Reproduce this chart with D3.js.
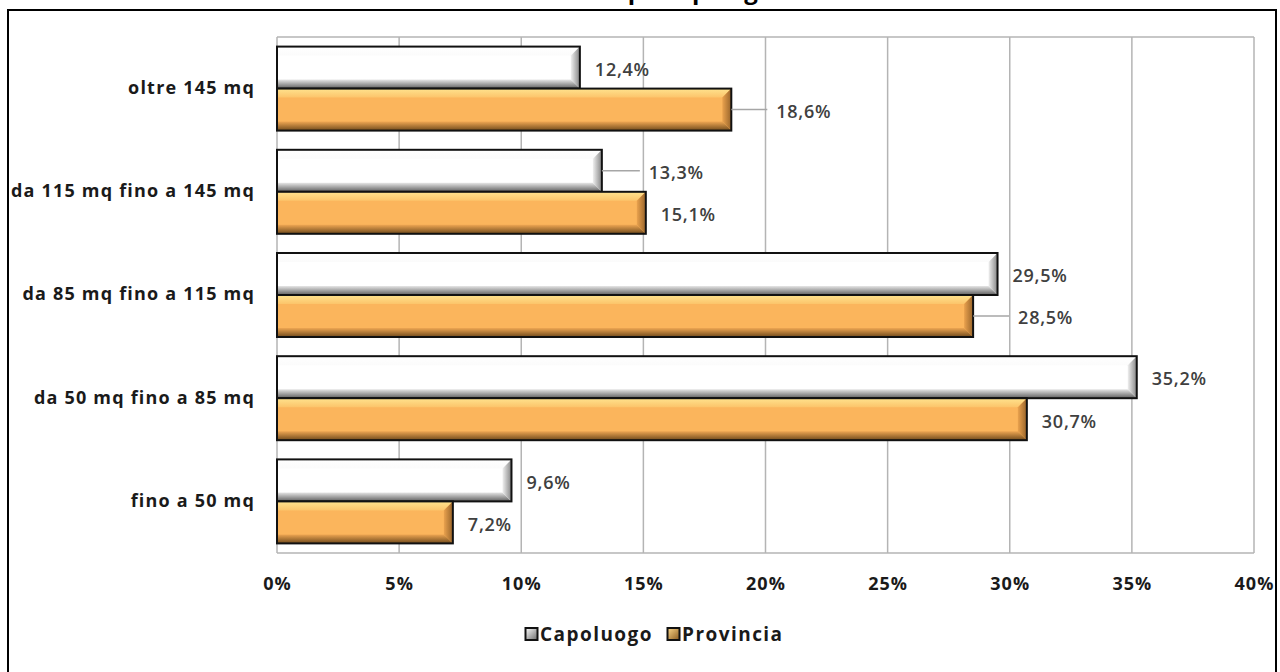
<!DOCTYPE html>
<html>
<head>
<meta charset="utf-8">
<script src="https://cdn.jsdelivr.net/npm/d3@7"></script>
<style>
  html, body { margin: 0; padding: 0; background: #fff; }
  svg { display: block; }
  text { font-family: "Open Sans", Lato, sans-serif; }
</style>
</head>
<body>
<svg id="chart" width="1280" height="672"></svg>
<script>
// Surface classes (top to bottom) and the two series
const categories = [
  "oltre 145 mq",
  "da 115 mq fino a 145 mq",
  "da 85 mq fino a 115 mq",
  "da 50 mq fino a 85 mq",
  "fino a 50 mq"
];
const seriesNames = ["Capoluogo", "Provincia"];
const capoluogo = [12.4, 13.3, 29.5, 35.2, 9.6];
const provincia = [18.6, 15.1, 28.5, 30.7, 7.2];
const tickValues = [0, 5, 10, 15, 20, 25, 30, 35, 40];
const titleText = "Abitazioni per tipologia";

const seriesValues = [capoluogo, provincia];

const svg = d3.select("#chart");
const defs = svg.append("defs");

// Plot geometry
const plot = { left: 277, right: 1254, top: 37, bottom: 553 };

const x = d3.scaleLinear().domain([0, 40]).range([plot.left, plot.right]);
const y = d3.scaleBand().domain(categories).range([plot.top, plot.bottom]).padding(0);
const ySub = d3.scaleBand().domain(seriesNames)
  .range([y.bandwidth() * 0.093, y.bandwidth() * 0.907]).padding(0);

// Widen a group of texts with letter spacing so a sample string spans a given width
function spread(sel, sample, target) {
  const probe = svg.append("text").attr("font-size", sel.attr("font-size"))
    .attr("font-weight", sel.attr("font-weight")).text(sample);
  const w = probe.node().getComputedTextLength();
  probe.remove();
  const ls = Math.max(0, (target - w) / sample.length);
  sel.attr("letter-spacing", ls);
}

// Gradients for the bevelled bars
function linGrad(id, x1, y1, x2, y2, stops) {
  const g = defs.append("linearGradient").attr("id", id)
    .attr("x1", x1).attr("y1", y1).attr("x2", x2).attr("y2", y2);
  stops.forEach(s => g.append("stop").attr("offset", s[0]).attr("stop-color", s[1]));
}
const palette = {
  Capoluogo: {
    base: "#ffffff",
    top: [["0", "#ffffff"], ["1", "#fbfbfb"]],
    bottom: [["0", "#e6e6e6"], ["1", "#5e5e5e"]],
    right: [["0", "#f0f0f0"], ["1", "#858585"]]
  },
  Provincia: {
    base: "#fbb55c",
    top: [["0", "#ffe38e"], ["1", "#fcc46a"]],
    bottom: [["0", "#eea652"], ["1", "#704a1c"]],
    right: [["0", "#eaa24e"], ["1", "#98642a"]]
  }
};
seriesNames.forEach((s, i) => {
  const p = palette[s];
  linGrad("top" + i, 0, 0, 0, 1, p.top);
  linGrad("bot" + i, 0, 0, 0, 1, p.bottom);
  linGrad("rgt" + i, 0, 0, 1, 0, p.right);
});
linGrad("leg0", 0, 0, 1, 1, [["0", "#ffffff"], ["1", "#6a6a6a"]]);
linGrad("leg1", 0, 0, 1, 1, [["0", "#ffd98a"], ["1", "#8a5a1e"]]);

// Outer frame
svg.append("rect")
  .attr("x", 8).attr("y", 10).attr("width", 1268).attr("height", 700)
  .attr("fill", "none").attr("stroke", "#000").attr("stroke-width", 2);

// Title (sits mostly above the visible area)
svg.append("text")
  .attr("x", 640).attr("y", -1)
  .attr("text-anchor", "middle")
  .attr("font-size", 24).attr("font-weight", 700)
  .attr("fill", "#000")
  .text(titleText);

// Vertical gridlines
svg.append("g").selectAll("line")
  .data(tickValues)
  .join("line")
  .attr("x1", d => x(d)).attr("x2", d => x(d))
  .attr("y1", plot.top).attr("y2", plot.bottom)
  .attr("stroke", "#b4b4b4").attr("stroke-width", 1.5);

// Plot border top and bottom
[plot.top, plot.bottom].forEach(yy => {
  svg.append("line")
    .attr("x1", plot.left).attr("x2", plot.right)
    .attr("y1", yy).attr("y2", yy)
    .attr("stroke", "#b4b4b4").attr("stroke-width", 1.5);
});

// X axis tick labels
const xAxis = d3.axisBottom(x).tickValues(tickValues).tickSize(0).tickPadding(0)
  .tickFormat(d => d + "%");
const gx = svg.append("g").attr("transform", `translate(0,${plot.bottom + 37})`).call(xAxis);
gx.select(".domain").remove();
gx.attr("font-size", null).attr("font-family", null);
const xt = gx.selectAll("text")
  .attr("font-size", 18).attr("font-weight", 700).attr("fill", "#1a1a1a")
  .attr("dy", 0);
spread(xt, "10%", 40);

// Category labels
const yAxis = d3.axisLeft(y).tickSize(0).tickPadding(0);
const gy = svg.append("g").attr("transform", `translate(${plot.left - 22},0)`).call(yAxis);
gy.select(".domain").remove();
gy.attr("font-size", null).attr("font-family", null);
const yt = gy.selectAll("text")
  .attr("font-size", 18).attr("font-weight", 700).attr("fill", "#1a1a1a")
  .attr("dy", "0.3em");
spread(yt, "da 115 mq fino a 145 mq", 244);

// Bars
const bevel = 9;
const rows = [];
categories.forEach((c, ci) => {
  seriesNames.forEach((s, si) => {
    rows.push({ cat: c, series: s, si: si, value: seriesValues[si][ci] });
  });
});

const barG = svg.append("g");
rows.forEach(d => {
  const x0 = x(0), x1 = x(d.value);
  const y0 = y(d.cat) + ySub(d.series);
  const h = ySub.bandwidth();
  const y1 = y0 + h;
  const b = Math.min(bevel, (x1 - x0) / 2);
  const g = barG.append("g");
  g.append("rect").attr("x", x0).attr("y", y0).attr("width", x1 - x0).attr("height", h)
    .attr("fill", palette[d.series].base);
  g.append("polygon")
    .attr("points", [[x0, y0], [x1, y0], [x1 - b, y0 + b], [x0, y0 + b]].join(" "))
    .attr("fill", `url(#top${d.si})`);
  g.append("polygon")
    .attr("points", [[x0, y1], [x1, y1], [x1 - b, y1 - b], [x0, y1 - b]].join(" "))
    .attr("fill", `url(#bot${d.si})`);
  g.append("polygon")
    .attr("points", [[x1, y0], [x1, y1], [x1 - b, y1 - b], [x1 - b, y0 + b]].join(" "))
    .attr("fill", `url(#rgt${d.si})`);
  g.append("rect").attr("x", x0).attr("y", y0).attr("width", x1 - x0).attr("height", h)
    .attr("fill", "none").attr("stroke", "#111").attr("stroke-width", 2);
});

// Value labels; a few are pushed right with a leader line
const pushed = { "Capoluogo|da 115 mq fino a 145 mq": 44,
                 "Provincia|oltre 145 mq": 42,
                 "Provincia|da 85 mq fino a 115 mq": 42 };
const fmt = v => d3.format(".1f")(v).replace(".", ",") + "%";
const labG = svg.append("g");
rows.forEach(d => {
  const xe = x(d.value);
  const yc = y(d.cat) + ySub(d.series) + ySub.bandwidth() / 2;
  const shift = pushed[d.series + "|" + d.cat];
  const off = shift ? shift + 3 : 15;
  if (shift) {
    labG.append("line")
      .attr("x1", xe).attr("x2", xe + shift - 6)
      .attr("y1", yc).attr("y2", yc)
      .attr("stroke", "#a6a6a6").attr("stroke-width", 1.5);
  }
  labG.append("text")
    .attr("class", "val")
    .attr("x", xe + off).attr("y", yc + 2)
    .attr("dy", "0.35em")
    .attr("font-size", 18).attr("font-weight", 600).attr("fill", "#404040")
    .text(fmt(d.value));
});
spread(labG.selectAll("text.val"), "13,3%", 55);

// Legend
const legend = svg.append("g").attr("transform", "translate(525,634)");
const legX = [0, 142];
seriesNames.forEach((s, i) => {
  const g = legend.append("g").attr("transform", `translate(${legX[i]},0)`);
  g.append("rect").attr("x", 0.5).attr("y", -6).attr("width", 12).attr("height", 12)
    .attr("fill", `url(#leg${i})`).attr("stroke", "#111").attr("stroke-width", 2);
  g.append("text").attr("class", "leg").attr("x", 15).attr("y", 0).attr("dy", "0.35em")
    .attr("font-size", 19).attr("font-weight", 700).attr("fill", "#1a1a1a")
    .text(s);
});
spread(legend.selectAll("text.leg"), "Capoluogo", 113);
</script>
</body>
</html>
